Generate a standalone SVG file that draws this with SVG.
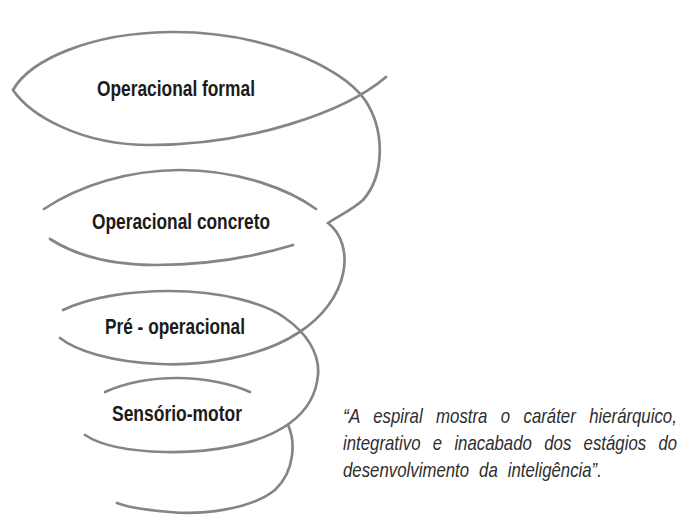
<svg xmlns="http://www.w3.org/2000/svg" width="680" height="516" viewBox="0 0 680 516">
  <style>
    .spiral { fill: none; stroke: #858585; stroke-width: 2.7; stroke-linecap: round; stroke-linejoin: miter; }
    .label { font-family: "Liberation Sans", Arial, sans-serif; font-weight: bold; font-size: 22px; fill: #1b1b1b; }
    .quote { font-family: "Liberation Sans", Arial, sans-serif; font-style: italic; font-size: 21px; fill: #2e2e2e; }
  </style>
  <rect x="0" y="0" width="680" height="516" fill="#ffffff"/>

  <g id="connectors">
    <path class="spiral" d="M386,77 C345,112 250,145 150,145 C80,145 30,115 13,90 C30,60 90,33 170,32 C260,31 340,65 365,100 C385,130 385,175 363,200 C352,210 340,215 328,223 C356,245 350,300 298,333 C260,358 200,366 160,364 C110,362 75,350 60,338"/>
    <path class="spiral" d="M44,209 C80,185 130,170 180,170 C240,170 290,190 316,209"/>
    <path class="spiral" d="M50,239 C75,255 110,265 155,265 C210,265 260,255 293,245"/>
    <path class="spiral" d="M63,310 C90,297 130,291 170,291 C220,291 265,303 285,318 C305,332 320,352 318,375 C316,398 305,412 290,423 C260,445 210,453 165,452 C125,451 100,445 85,435"/>
    <path class="spiral" d="M105,392 C125,383 150,378 177,378 C205,378 232,384 250,392"/>
    <path class="spiral" d="M288,425 C295,440 296,470 275,490 C250,510 200,515 170,512 C145,510 127,507 117,503"/>
  </g>

  <g id="node-operacional-formal">
    <text class="label" x="97" y="96" textLength="158" lengthAdjust="spacingAndGlyphs">Operacional formal</text>
  </g>
  <g id="node-operacional-concreto">
    <text class="label" x="92" y="229" textLength="178" lengthAdjust="spacingAndGlyphs">Operacional concreto</text>
  </g>
  <g id="node-pre-operacional">
    <text class="label" x="105" y="334" textLength="140" lengthAdjust="spacingAndGlyphs">Pré - operacional</text>
  </g>
  <g id="node-sensorio-motor">
    <text class="label" x="112" y="421" textLength="130" lengthAdjust="spacingAndGlyphs">Sensório-motor</text>
  </g>

  <g id="quote">
    <text class="quote" y="423"><tspan x="343" textLength="16.8" lengthAdjust="spacingAndGlyphs">“A</tspan> <tspan x="373.2" textLength="49.5" lengthAdjust="spacingAndGlyphs">espiral</tspan> <tspan x="436.1" textLength="51.3" lengthAdjust="spacingAndGlyphs">mostra</tspan> <tspan x="500.8" textLength="9.3" lengthAdjust="spacingAndGlyphs">o</tspan> <tspan x="523.5" textLength="52.3" lengthAdjust="spacingAndGlyphs">caráter</tspan> <tspan x="589.2" textLength="87.6" lengthAdjust="spacingAndGlyphs">hierárquico,</tspan></text>
    <text class="quote" y="450"><tspan x="343" textLength="77.5" lengthAdjust="spacingAndGlyphs">integrativo</tspan> <tspan x="432.8" textLength="9.3" lengthAdjust="spacingAndGlyphs">e</tspan> <tspan x="454.4" textLength="77.5" lengthAdjust="spacingAndGlyphs">inacabado</tspan> <tspan x="544.2" textLength="27.1" lengthAdjust="spacingAndGlyphs">dos</tspan> <tspan x="583.6" textLength="62.6" lengthAdjust="spacingAndGlyphs">estágios</tspan> <tspan x="658.5" textLength="18.5" lengthAdjust="spacingAndGlyphs">do</tspan></text>
    <text class="quote" y="477"><tspan x="343" textLength="126.1" lengthAdjust="spacingAndGlyphs">desenvolvimento</tspan> <tspan x="479.1" textLength="18.7" lengthAdjust="spacingAndGlyphs">da</tspan> <tspan x="507.8" textLength="94" lengthAdjust="spacingAndGlyphs">inteligência”.</tspan></text>
  </g>
</svg>
